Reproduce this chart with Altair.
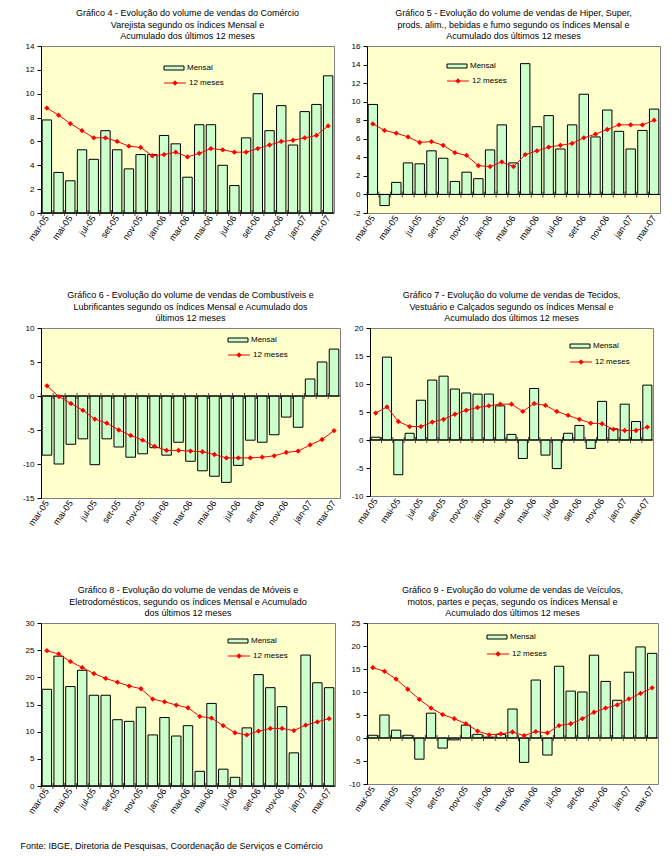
import altair as alt
import pandas as pd

FONT = "Liberation Sans"

months = ["mar-05", "abr-05", "mai-05", "jun-05", "jul-05", "ago-05", "set-05", "out-05",
          "nov-05", "dez-05", "jan-06", "fev-06", "mar-06", "abr-06", "mai-06", "jun-06",
          "jul-06", "ago-06", "set-06", "out-06", "nov-06", "dez-06", "jan-07", "fev-07", "mar-07"]
tick_months = ["mar-05", "mai-05", "jul-05", "set-05", "nov-05", "jan-06", "mar-06",
               "mai-06", "jul-06", "set-06", "nov-06", "jan-07", "mar-07"]
legend_labels = ["Mensal", "12 meses"]
footer = "Fonte: IBGE, Diretoria de Pesquisas, Coordenação de Serviços e Comércio"

# Gráfico 4
title_4 = ["Gráfico 4 - Evolução do volume de vendas do Comércio",
           "Varejista segundo os índices Mensal e",
           "Acumulado dos últimos 12 meses"]
mensal_4 = [7.8, 3.4, 2.7, 5.3, 4.5, 6.9, 5.3, 3.7, 4.9, 4.9, 6.5, 5.8, 3.0, 7.4, 7.4,
            4.0, 2.3, 6.3, 10.0, 6.9, 9.0, 5.7, 8.5, 9.1, 11.5]
acum_4 = [8.8, 8.2, 7.5, 6.9, 6.3, 6.3, 6.0, 5.6, 5.5, 4.8, 4.9, 5.1, 4.7, 5.0, 5.4,
          5.3, 5.1, 5.1, 5.4, 5.7, 6.0, 6.1, 6.3, 6.5, 7.3]
yticks_4 = [0, 2, 4, 6, 8, 10, 12, 14]

# Gráfico 5
title_5 = ["Gráfico 5 - Evolução do volume de vendas de Hiper, Super,",
           "prods. alim., bebidas e fumo segundo os índices Mensal e",
           "Acumulado dos últimos 12 meses"]
mensal_5 = [9.7, -1.2, 1.3, 3.4, 3.3, 4.7, 3.9, 1.4, 2.4, 1.7, 4.8, 7.5, 3.4, 14.1, 7.3,
            8.5, 4.9, 7.5, 10.8, 6.2, 9.1, 6.8, 4.9, 6.9, 9.2]
acum_5 = [7.6, 6.9, 6.6, 6.2, 5.6, 5.7, 5.3, 4.5, 4.2, 3.1, 3.0, 3.5, 3.0, 4.3, 4.7,
          5.1, 5.3, 5.5, 6.1, 6.5, 7.0, 7.5, 7.5, 7.5, 8.0]
yticks_5 = [-2, 0, 2, 4, 6, 8, 10, 12, 14, 16]

# Gráfico 6
title_6 = ["Gráfico 6 - Evolução do volume de vendas de Combustíveis e",
           "Lubrificantes segundo os índices Mensal e Acumulado dos",
           "últimos 12 meses"]
mensal_6 = [-8.7, -10.0, -7.1, -6.3, -10.1, -6.3, -7.5, -9.0, -8.5, -7.6, -8.7, -6.8, -9.6,
            -11.0, -11.8, -12.7, -10.2, -6.5, -6.8, -5.7, -3.1, -4.6, 2.5, 5.0, 6.9]
acum_6 = [1.5, -0.1, -1.1, -2.1, -3.4, -4.0, -5.0, -5.8, -6.5, -7.4, -8.0, -8.0, -8.1,
          -8.2, -8.6, -9.1, -9.1, -9.1, -9.0, -8.8, -8.3, -8.1, -7.2, -6.4, -5.1]
yticks_6 = [-15, -10, -5, 0, 5, 10]

# Gráfico 7
title_7 = ["Gráfico 7 - Evolução do volume de vendas de Tecidos,",
           "Vestuário e Calçados segundo os índices Mensal e",
           "Acumulado dos últimos 12 meses"]
mensal_7 = [0.5, 14.8, -6.2, 1.2, 7.1, 10.7, 11.4, 9.1, 8.4, 8.2, 8.2, 6.1, 1.0, -3.3, 9.2,
            -2.7, -5.1, 1.2, 2.6, -1.5, 6.9, 2.0, 6.4, 3.3, 9.8]
acum_7 = [4.8, 5.9, 3.3, 2.4, 2.4, 3.2, 3.7, 4.6, 5.3, 5.8, 6.1, 6.4, 6.4, 5.1, 6.5,
          6.2, 5.1, 4.4, 3.7, 3.0, 2.9, 1.9, 1.7, 1.7, 2.3]
yticks_7 = [-10, -5, 0, 5, 10, 15, 20]

# Gráfico 8
title_8 = ["Gráfico 8 -  Evolução do volume de vendas de Móveis e",
           "Eletrodomésticos, segundo os índices Mensal e Acumulado",
           "dos últimos 12 meses"]
mensal_8 = [17.8, 23.9, 18.3, 21.3, 16.7, 16.7, 12.2, 11.9, 14.5, 9.4, 12.6, 9.2, 11.1,
            2.7, 15.2, 3.1, 1.6, 10.7, 20.5, 18.1, 14.6, 6.1, 24.1, 19.0, 18.1]
acum_8 = [24.9, 24.3, 22.9, 21.8, 20.7, 19.8, 19.1, 18.4, 17.9, 16.0, 15.5, 14.9, 14.4,
          12.8, 12.5, 11.1, 9.8, 9.4, 10.1, 10.6, 10.6, 10.2, 11.2, 11.8, 12.4]
yticks_8 = [0, 5, 10, 15, 20, 25, 30]

# Gráfico 9
title_9 = ["Gráfico 9 - Evolução do volume de vendas de Veículos,",
           "motos, partes e peças, segundo os índices Mensal e",
           "Acumulado dos últimos 12 meses"]
mensal_9 = [0.6, 5.0, 1.7, 0.6, -4.6, 5.4, -2.2, -0.4, 2.8, 0.8, 0.2, 0.8, 6.3, -5.3, 12.6,
            -3.7, 15.6, 10.2, 10.0, 18.0, 12.3, 8.2, 14.3, 19.8, 18.4]
acum_9 = [15.3, 14.5, 12.8, 10.6, 8.4, 6.5, 5.1, 4.2, 3.1, 1.5, 0.7, 0.9, 1.3, 0.5, 1.4,
          1.1, 2.7, 3.1, 4.2, 5.6, 6.5, 7.2, 8.5, 9.7, 10.9]
yticks_9 = [-10, -5, 0, 5, 10, 15, 20, 25]

BAR_FILL = "#CCFFCC"
LINE_RED = "#FF0000"


def panel(title_lines, mensal, acum, yticks, width, height, leg, yext=24):
    df = pd.DataFrame({"mes": months, "Mensal": mensal, "acum": acum})
    xscale = alt.Scale(paddingInner=0.2, paddingOuter=0.1)
    xaxis = alt.Axis(values=tick_months, labelAngle=-55, ticks=False, domain=False,
                     title=None, labelFontSize=9, labelFont=FONT, labelColor="black",
                     labelPadding=3, minExtent=35, maxExtent=35)
    yscale = alt.Scale(domain=[yticks[0], yticks[-1]], nice=False, zero=False)
    yaxis = alt.Axis(values=yticks, title=None, grid=False, domainColor="black",
                     tickColor="black", tickSize=4, labelFontSize=8, labelFont=FONT,
                     labelColor="black", labelPadding=3,
                     labelExpr="toString(datum.value)",
                     minExtent=yext, maxExtent=yext)

    def X(**kw):
        return alt.X("mes:N", sort=months, scale=xscale, axis=xaxis, **kw)

    def Y(field):
        return alt.Y(field, scale=yscale, axis=yaxis)

    bars = alt.Chart(df).mark_bar(fill=BAR_FILL, stroke="black", strokeWidth=1).encode(
        x=X(), y=Y("Mensal:Q"), y2=alt.Y2(datum=0))
    zero = alt.Chart(pd.DataFrame({"Mensal": [0]})).mark_rule(
        color="black", strokeWidth=1).encode(y=Y("Mensal:Q"))
    zticks = alt.Chart(df.assign(z=0)).mark_tick(
        orient="vertical", color="black", size=6, thickness=1, xOffset=-1).encode(
        x=X(bandPosition=0), y=Y("z:Q"))
    line = alt.Chart(df).mark_line(color=LINE_RED, strokeWidth=1).encode(
        x=X(), y=Y("acum:Q"))
    pts = alt.Chart(df).mark_point(shape="diamond", filled=True, color=LINE_RED, size=28,
                                   opacity=1).encode(x=X(), y=Y("acum:Q"))

    lx, ly1, ly2 = leg
    ldf1 = pd.DataFrame({"label": [legend_labels[0]]})
    ldf2 = pd.DataFrame({"label": [legend_labels[1]]})
    leg_rect = alt.Chart(ldf1).mark_rect(fill=BAR_FILL, stroke="black", strokeWidth=1).encode(
        x=alt.value(lx), x2=alt.value(lx + 20), y=alt.value(ly1 - 2), y2=alt.value(ly1 + 2))
    leg_t1 = alt.Chart(ldf1).mark_text(align="left", baseline="middle", fontSize=8, font=FONT,
                                       color="black").encode(
        x=alt.value(lx + 23), y=alt.value(ly1), text="label:N")
    leg_line = alt.Chart(ldf2).mark_rule(color=LINE_RED, strokeWidth=1).encode(
        x=alt.value(lx), x2=alt.value(lx + 22), y=alt.value(ly2))
    leg_pt = alt.Chart(ldf2).mark_point(shape="diamond", filled=True, color=LINE_RED, size=28,
                                        opacity=1).encode(
        x=alt.value(lx + 11), y=alt.value(ly2))
    leg_t2 = alt.Chart(ldf2).mark_text(align="left", baseline="middle", fontSize=8, font=FONT,
                                       color="black").encode(
        x=alt.value(lx + 25), y=alt.value(ly2), text="label:N")

    return alt.layer(bars, zero, zticks, line, pts, leg_rect, leg_t1, leg_line, leg_pt,
                     leg_t2).properties(
        width=width, height=height,
        title=alt.TitleParams(text=title_lines, fontSize=9, font=FONT, fontWeight="normal",
                              lineHeight=11.5, offset=1, anchor="middle", color="black"))


p4 = panel(title_4, mensal_4, acum_4, yticks_4, 293, 167, (123, 22, 37))
p5 = panel(title_5, mensal_5, acum_5, yticks_5, 293, 167, (80, 20, 35))
p6 = panel(title_6, mensal_6, acum_6, yticks_6, 299, 170, (187, 12, 27), yext=25)
p7 = panel(title_7, mensal_7, acum_7, yticks_7, 283, 168, (200, 18, 34))
p8 = panel(title_8, mensal_8, acum_8, yticks_8, 294, 163, (187, 18, 33))
p9 = panel(title_9, mensal_9, acum_9, yticks_9, 291, 161, (120, 14, 31))

row1 = alt.hconcat(p4, p5, spacing=7)
row2 = alt.hconcat(p6, p7, spacing=4)
row3 = alt.hconcat(p8, p9, spacing=6)

top = alt.vconcat(row1, row2, spacing=41)
chart = alt.vconcat(top, row3, spacing=51).properties(
    padding={"left": 7, "top": 0, "right": 0, "bottom": 0},
    title=alt.TitleParams(text=footer, orient="bottom", anchor="start", fontSize=9,
                          font=FONT, fontWeight="normal", color="black", offset=20, dx=5)
).configure(
    background="white",
    view=alt.ViewConfig(fill="#FFFFCC", stroke="#808080", strokeWidth=1))

chart.save("out.html", embed_options={"renderer": "svg", "actions": False})
